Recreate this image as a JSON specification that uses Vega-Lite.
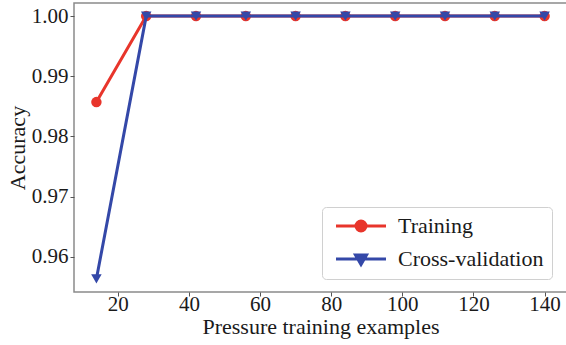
{
  "$schema": "https://vega.github.io/schema/vega-lite/v6.json",
  "autosize": {"type": "none"},
  "width": 493,
  "height": 289,
  "padding": {"left": 74, "top": 3, "right": 0, "bottom": 53},
  "background": "white",
  "config": {
    "view": {"stroke": "#8a8a8a", "strokeWidth": 1.5},
    "font": "Liberation Serif",
    "axis": {
      "grid": false,
      "domain": false,
      "tickColor": "#555",
      "tickSize": 4,
      "tickWidth": 1,
      "labelFont": "Liberation Serif",
      "labelFontSize": 21,
      "labelColor": "#1a1a1a",
      "titleFont": "Liberation Serif",
      "titleFontSize": 22,
      "titleFontWeight": "normal",
      "titleColor": "#1a1a1a"
    }
  },
  "data": {
    "values": [
      {"n": 14, "series": "Training", "acc": 0.9857},
      {"n": 28, "series": "Training", "acc": 1.0},
      {"n": 42, "series": "Training", "acc": 1.0},
      {"n": 56, "series": "Training", "acc": 1.0},
      {"n": 70, "series": "Training", "acc": 1.0},
      {"n": 84, "series": "Training", "acc": 1.0},
      {"n": 98, "series": "Training", "acc": 1.0},
      {"n": 112, "series": "Training", "acc": 1.0},
      {"n": 126, "series": "Training", "acc": 1.0},
      {"n": 140, "series": "Training", "acc": 1.0},
      {"n": 14, "series": "Cross-validation", "acc": 0.9563},
      {"n": 28, "series": "Cross-validation", "acc": 1.0},
      {"n": 42, "series": "Cross-validation", "acc": 1.0},
      {"n": 56, "series": "Cross-validation", "acc": 1.0},
      {"n": 70, "series": "Cross-validation", "acc": 1.0},
      {"n": 84, "series": "Cross-validation", "acc": 1.0},
      {"n": 98, "series": "Cross-validation", "acc": 1.0},
      {"n": 112, "series": "Cross-validation", "acc": 1.0},
      {"n": 126, "series": "Cross-validation", "acc": 1.0},
      {"n": 140, "series": "Cross-validation", "acc": 1.0}
    ]
  },
  "encoding": {
    "x": {
      "field": "n", "type": "quantitative",
      "scale": {"domain": [7.7, 146.3], "nice": false, "zero": false},
      "axis": {"values": [20, 40, 60, 80, 100, 120, 140], "title": "Pressure training examples", "labelPadding": -3, "titlePadding": 2}
    },
    "y": {
      "field": "acc", "type": "quantitative",
      "scale": {"domain": [0.95412, 1.00218], "nice": false, "zero": false},
      "axis": {"values": [0.96, 0.97, 0.98, 0.99, 1.0], "format": ".2f", "title": "Accuracy", "labelPadding": 2, "titlePadding": 2}
    },
    "color": {
      "field": "series", "type": "nominal",
      "scale": {"domain": ["Training", "Cross-validation"], "range": ["#e8352b", "#3448a8"]},
      "legend": {
        "title": null,
        "orient": "none",
        "legendX": 248,
        "legendY": 204,
        "padding": 8,
        "fillColor": "white",
        "strokeColor": "#d0d0d0",
        "cornerRadius": 4,
        "labelFont": "Liberation Serif",
        "labelFontSize": 22,
        "labelColor": "#1a1a1a",
        "labelOffset": 46,
        "symbolSize": 100,
        "symbolStrokeWidth": 3,
        "rowPadding": 11,
        "encode": {
          "symbols": {
            "update": {
              "shape": {"signal": "datum.value === 'Training' ? 'M-1,0H9M5,0A1,1,0,1,1,3,0A1,1,0,1,1,5,0Z' : 'M-1,0H9M2.9,-0.8L5.1,-0.8L4,1.1Z'"},
              "fill": {"signal": "datum.value === 'Training' ? '#e8352b' : '#3448a8'"},
              "stroke": {"signal": "datum.value === 'Training' ? '#e8352b' : '#3448a8'"},
              "strokeWidth": {"value": 3},
              "opacity": {"value": 1}
            }
          }
        }
      }
    }
  },
  "layer": [
    {
      "transform": [{"filter": "datum.series === 'Training'"}],
      "mark": {"type": "line", "strokeWidth": 3}
    },
    {
      "transform": [{"filter": "datum.series === 'Training'"}],
      "mark": {"type": "point", "shape": "circle", "filled": true, "size": 110, "opacity": 1}
    },
    {
      "transform": [{"filter": "datum.series === 'Cross-validation'"}],
      "mark": {"type": "line", "strokeWidth": 3}
    },
    {
      "transform": [{"filter": "datum.series === 'Cross-validation'"}],
      "mark": {"type": "point", "shape": "triangle-down", "filled": true, "size": 110, "opacity": 1}
    }
  ]
}
